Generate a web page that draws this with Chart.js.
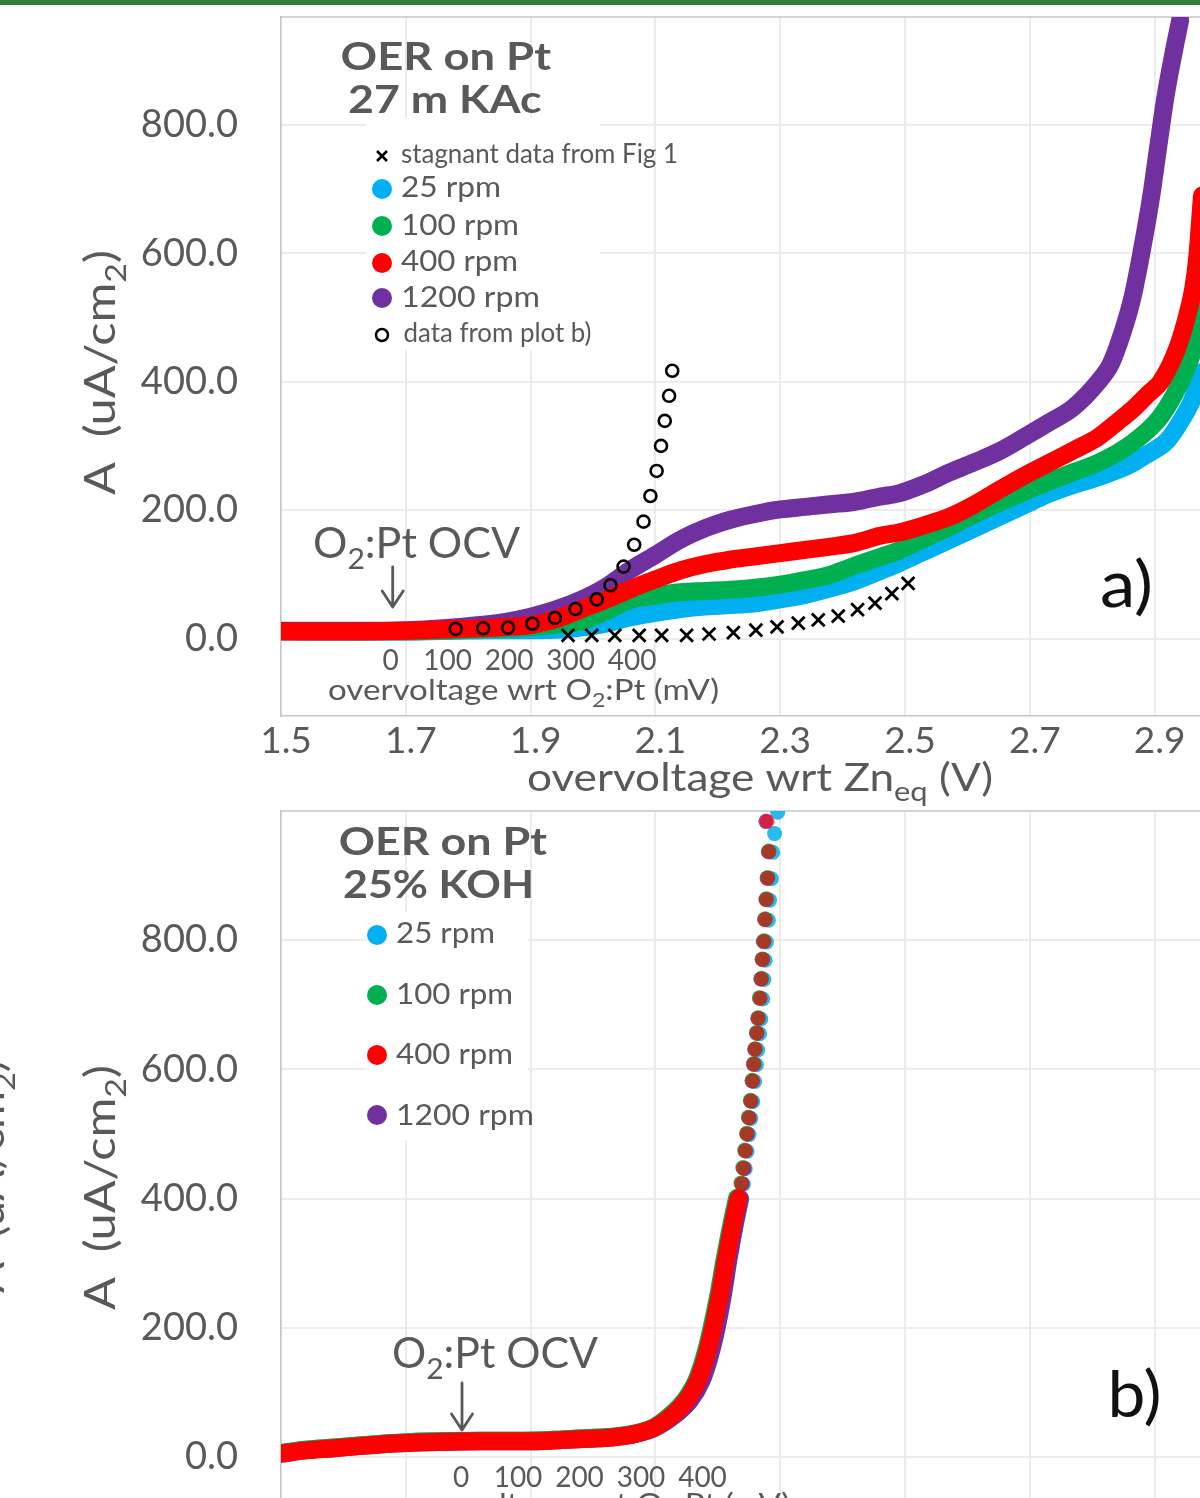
<!DOCTYPE html>
<html><head><meta charset="utf-8">
<script src="https://cdn.jsdelivr.net/npm/chart.js@4.4.1/dist/chart.umd.min.js"></script>
<style>
html,body{margin:0;padding:0;background:#fff;width:1200px;height:1498px;overflow:hidden;position:relative}
#bar{position:absolute;left:0;top:0;width:1200px;height:5px;background:#377d37}
#ca{position:absolute;left:0;top:0}
#cb{position:absolute;left:0;top:801px}
</style></head><body>
<canvas id="ca" width="1200" height="830"></canvas>
<canvas id="cb" width="1200" height="818"></canvas>
<div id="bar"></div>
<script>
// ---------- axis ticks ----------
const xTicks = [1.5, 1.7, 1.9, 2.1, 2.3, 2.5, 2.7, 2.9];
const yTicks = [0, 200, 400, 600, 800];
const mvTicks = ['0', '100', '200', '300', '400'];
const seriesLabels = ['25 rpm', '100 rpm', '400 rpm', '1200 rpm'];

// ---------- panel a) 27 m KAc : voltage (V) / current (uA/cm2) ----------
const vA25 = [1.488,1.55,1.62,1.70,1.78,1.84,1.90,1.95,1.98,2.02,2.06,2.10,2.14,2.18,2.22,2.26,2.30,2.34,2.38,2.41,2.46,2.49,2.53,2.57,2.61,2.65,2.69,2.73,2.77,2.81,2.84,2.865,2.89,2.92,2.946,2.962,2.976];
const iA25 = [12,11,11,11,12,13,13,14,17,23,33,40,46,50,52,55,61,68,78,86,105,117,135,153,171,189,207,225,239,251,262,273,288,308,345,375,415];
const vA100 = [1.488,1.55,1.62,1.70,1.78,1.84,1.90,1.95,1.98,2.02,2.06,2.10,2.14,2.18,2.22,2.26,2.30,2.34,2.38,2.41,2.46,2.49,2.53,2.57,2.61,2.65,2.69,2.73,2.77,2.81,2.84,2.865,2.89,2.91,2.94,2.962,2.976];
const iA100 = [11,11,11,11,13,15,18,22,26,42,60,67,72,74,76,79,84,91,99,110,127,137,155,173,193,211,228,244,259,274,289,305,325,346,396,450,510];
const vA400 = [1.488,1.55,1.62,1.70,1.76,1.82,1.86,1.90,1.94,1.98,2.02,2.06,2.10,2.14,2.18,2.22,2.26,2.30,2.34,2.38,2.42,2.46,2.49,2.53,2.57,2.61,2.65,2.69,2.73,2.77,2.81,2.84,2.865,2.89,2.91,2.936,2.952,2.962,2.968,2.976];
const iA400 = [11,11,11,12,14,16,18,21,30,45,60,77,92,106,116,123,128,133,138,143,149,160,165,176,189,208,231,253,273,293,314,337,357,381,400,451,502,545,590,690];
const vA1200 = [1.488,1.55,1.62,1.70,1.76,1.82,1.86,1.90,1.94,1.98,2.02,2.06,2.10,2.14,2.18,2.22,2.26,2.30,2.34,2.38,2.42,2.46,2.49,2.53,2.57,2.61,2.65,2.69,2.73,2.77,2.81,2.83,2.849,2.864,2.877,2.894,2.905,2.917,2.93,2.941];
const iA1200 = [12,12,12,13,16,21,26,34,45,60,80,107,130,154,172,185,194,201,205,209,213,221,226,240,258,274,291,313,336,360,400,428,478,529,591,685,760,841,910,963];
const vStag = [1.960,1.998,2.035,2.074,2.110,2.150,2.186,2.225,2.261,2.295,2.329,2.361,2.393,2.424,2.452,2.479,2.505];
const iStag = [5,5,5,5,5,5,7,9,13,18,24,29,35,45,55,70,86];
const vPlotB = [1.780,1.824,1.864,1.903,1.939,1.972,2.006,2.028,2.049,2.066,2.081,2.092,2.102,2.109,2.115,2.122,2.127];
const iPlotB = [15,16,17,23,32,46,61,83,112,146,182,222,261,300,339,378,417];

// ---------- panel b) 25% KOH ----------
const vB25 = [1.50,1.54,1.58,1.63,1.69,1.75,1.82,1.89,1.95,1.99,2.03,2.07,2.10,2.132,2.153,2.171,2.183,2.193,2.206,2.216,2.227,2.236,2.241,2.244,2.247,2.250,2.253,2.256,2.259,2.262,2.264,2.267,2.269,2.272,2.274,2.276,2.278,2.281,2.283,2.286,2.288,2.291,2.296];
const iB25 = [6,11,14,18,22,24,25,25,27,29,31,36,45,66,87,117,151,189,249,304,359,399,422,446,473,499,524,550,581,607,630,655,678,709,739,769,797,831,862,895,936,965,998];
const vB100 = [1.50,1.54,1.58,1.63,1.69,1.75,1.82,1.89,1.95,1.99,2.03,2.07,2.10,2.128,2.148,2.166,2.178,2.188,2.201,2.211,2.222,2.231,2.237,2.240,2.243,2.246,2.249,2.252,2.255,2.258,2.260,2.262,2.265,2.267,2.270,2.272,2.274,2.276,2.278,2.280,2.282];
const iB100 = [6,11,14,18,22,24,25,25,27,29,31,37,47,68,89,119,153,191,251,306,361,401,424,448,475,501,526,552,583,609,632,657,680,711,741,771,799,833,864,897,938];
const vB400 = [1.50,1.54,1.58,1.63,1.69,1.75,1.82,1.89,1.95,1.99,2.03,2.07,2.10,2.13,2.15,2.168,2.18,2.19,2.203,2.213,2.224,2.233,2.238,2.241,2.244,2.247,2.250,2.253,2.256,2.258,2.260,2.263,2.265,2.268,2.270,2.272,2.274,2.276,2.278,2.280,2.282,2.279];
const iB400 = [5,10,13,17,21,23,24,24,26,28,30,36,46,67,88,118,152,190,250,305,360,400,423,447,474,500,525,551,582,608,631,656,679,710,740,770,798,832,863,896,937,984];
const vB1200 = [1.50,1.54,1.58,1.63,1.69,1.75,1.82,1.89,1.95,1.99,2.03,2.07,2.10,2.134,2.156,2.174,2.186,2.196,2.208,2.217,2.227,2.235,2.239,2.242,2.244,2.247,2.250,2.253,2.255,2.257,2.259,2.262,2.264,2.267,2.269,2.271,2.273,2.275,2.277,2.279,2.281,2.277];
const iB1200 = [5,10,13,17,21,23,24,24,26,28,30,36,46,67,88,118,152,190,250,305,360,400,423,447,474,500,525,551,582,608,631,656,679,710,740,770,798,832,863,896,937,984];

// ---------- styles ----------
const FAM = 'Lato, "Liberation Sans", sans-serif';
const GRAY = '#595959';
const C25 = '#00b0f0', C100 = '#00b050', C400 = '#ff0000', C1200 = '#7030a0';
const colors = [C25, C100, C400, C1200];
const dotCols = ['rgba(0,176,240,0.85)', 'rgba(0,176,80,0.8)', 'rgba(255,0,0,0.62)', 'rgba(112,48,160,0.8)'];
const BAND = 18;

function pts(xs, ys) { return xs.map((x, i) => ({ x: x, y: ys[i] })); }
function fnt(sz, w) { return (w || 'normal') + ' ' + sz + 'px ' + FAM; }
function R() { return Array.from(arguments).map(p => typeof p === 'string' ? { t: p } : p); }
function sub(t) { return { t: t, sub: true }; }
function runsW(ctx, runs, sz, w) {
  let t = 0;
  for (const r of runs) { ctx.font = fnt(r.sub ? sz * 0.7 : sz, w); t += ctx.measureText(r.t).width; }
  return t;
}
function drawRuns(ctx, runs, x, by, o) {
  const sz = o.size, w = o.weight || 'normal';
  const nat = runsW(ctx, runs, sz, w);
  const sx = o.width ? o.width / nat : 1;
  ctx.save();
  ctx.translate(x, by);
  if (o.rot) ctx.rotate(-Math.PI / 2);
  ctx.scale(sx, 1);
  ctx.fillStyle = o.color || GRAY;
  ctx.textBaseline = 'alphabetic'; ctx.textAlign = 'left';
  let cx = 0;
  for (const r of runs) {
    const s = r.sub ? sz * 0.7 : sz;
    ctx.font = fnt(s, w);
    ctx.fillText(r.t, cx, r.sub ? sz * 0.26 : 0);
    cx += ctx.measureText(r.t).width;
  }
  ctx.restore();
}
function centered(ctx, s, cx, by, sz) {
  ctx.font = fnt(sz); ctx.fillStyle = GRAY; ctx.textAlign = 'center'; ctx.textBaseline = 'alphabetic';
  ctx.fillText(s, cx, by);
}
function arrow(ctx, x, y1, y2) {
  ctx.save(); ctx.strokeStyle = GRAY; ctx.lineWidth = 2.8; ctx.lineCap = 'round'; ctx.lineJoin = 'round';
  ctx.beginPath(); ctx.moveTo(x, y1); ctx.lineTo(x, y2);
  ctx.moveTo(x - 10.5, y2 - 16); ctx.lineTo(x, y2); ctx.lineTo(x + 10.5, y2 - 16);
  ctx.stroke(); ctx.restore();
}
function dot(ctx, x, y, r, c) { ctx.beginPath(); ctx.arc(x, y, r, 0, Math.PI * 2); ctx.fillStyle = c; ctx.fill(); }
function mvLabels(ctx, x0, by) {
  mvTicks.forEach((t, i) => centered(ctx, t, x0 + (i ? 57 + (i - 1) * 61.5 : 0), by, 28));
}
function topBorder(ctx, ca) {
  ctx.save(); ctx.strokeStyle = '#c6c6c6'; ctx.lineWidth = 1.5;
  ctx.beginPath(); ctx.moveTo(ca.left, ca.top); ctx.lineTo(ca.right, ca.top); ctx.stroke(); ctx.restore();
}
function noPad(s) { s.paddingTop = 0; s.paddingBottom = 0; s.paddingLeft = 0; s.paddingRight = 0; }

function mkOpts(ymin, ymax, padTop, xh) {
  const gridC = '#ececec';
  return {
    responsive: false, animation: false, devicePixelRatio: 1,
    layout: { autoPadding: false, padding: { top: padTop, left: 0, right: 0, bottom: 0 } },
    plugins: { legend: { display: false }, tooltip: { enabled: false } },
    scales: {
      x: {
        type: 'linear', min: 1.5, max: 2.9728,
        afterFit: s => { s.height = xh; noPad(s); },
        afterBuildTicks: s => { s.ticks = xTicks.map(v => ({ value: v })); },
        ticks: { font: { family: FAM, size: 37 }, color: GRAY, padding: 3, labelOffset: 5, maxRotation: 0, autoSkip: false, callback: v => Number(v).toFixed(1) },
        grid: { color: gridC, lineWidth: 2, drawTicks: false },
        border: { color: '#c6c6c6', width: 1.5 }
      },
      y: {
        type: 'linear', min: ymin, max: ymax,
        afterFit: s => { s.width = 281; noPad(s); },
        afterBuildTicks: s => { s.ticks = yTicks.map(v => ({ value: v })); },
        ticks: { font: { family: FAM, size: 38 }, color: GRAY, padding: 43, callback: v => Number(v).toFixed(1) },
        grid: { color: gridC, lineWidth: 2, drawTicks: false },
        border: { color: '#c6c6c6', width: 1.5 }
      }
    }
  };
}

function curveA(xs, ys, color, order) {
  return { type: 'line', data: pts(xs, ys), borderColor: color, backgroundColor: color, borderWidth: BAND,
    pointRadius: 0, borderCapStyle: 'round', borderJoinStyle: 'round', cubicInterpolationMode: 'monotone', fill: false, order: order };
}
function curveB(xs, ys, k, order) {
  const color = colors[k];
  return { type: 'line', data: pts(xs, ys), borderColor: color, backgroundColor: color, borderWidth: BAND,
    pointRadius: c => (c.raw && c.raw.y > 410 ? 7.5 : 0), pointBackgroundColor: dotCols[k], pointBorderWidth: 0,
    segment: { borderColor: c => (c.p1.parsed.y > 410 ? 'rgba(0,0,0,0)' : color) },
    borderCapStyle: 'round', borderJoinStyle: 'round', cubicInterpolationMode: 'monotone', fill: false, order: order };
}

// ---------- panel a ----------
const decoA = {
  id: 'decoA',
  beforeDatasetsDraw(chart) {
    const ctx = chart.ctx;
    ctx.save(); ctx.fillStyle = '#fff'; ctx.fillRect(366, 118, 234, 232); ctx.restore();
    topBorder(ctx, chart.chartArea);
  },
  afterDatasetsDraw(chart) {
    const ctx = chart.ctx;
    drawRuns(ctx, R('OER on Pt'), 340.5, 70, { size: 39, weight: 'bold', width: 210.5 });
    drawRuns(ctx, R('27 m KAc'), 348, 113, { size: 39, weight: 'bold', width: 193.5 });
    ctx.save(); ctx.strokeStyle = '#000'; ctx.lineWidth = 2.6;
    ctx.beginPath(); ctx.moveTo(377, 151); ctx.lineTo(387, 161); ctx.moveTo(387, 151); ctx.lineTo(377, 161); ctx.stroke(); ctx.restore();
    drawRuns(ctx, R('stagnant data from Fig 1'), 401, 163, { size: 27, width: 277 });
    const ly = [189, 226, 263, 298], lb = [197, 235, 271, 307], lw = [100, 118, 117, 139];
    seriesLabels.forEach((s, i) => {
      dot(ctx, 382, ly[i], 10, colors[i]);
      drawRuns(ctx, R(s), 401, lb[i], { size: 29, width: lw[i] });
    });
    ctx.save(); ctx.strokeStyle = '#000'; ctx.lineWidth = 2.5;
    ctx.beginPath(); ctx.arc(382, 335, 6, 0, Math.PI * 2); ctx.stroke(); ctx.restore();
    drawRuns(ctx, R('data from plot b)'), 403.5, 342, { size: 27, width: 188 });
    drawRuns(ctx, R('O', sub('2'), ':Pt OCV'), 313, 558, { size: 42, width: 207 });
    arrow(ctx, 392.7, 567, 607);
    mvLabels(ctx, 390.6, 670);
    drawRuns(ctx, R('overvoltage wrt O', sub('2'), ':Pt (mV)'), 328, 700, { size: 28, width: 391 });
    drawRuns(ctx, R('a)'), 1100, 607, { size: 64, width: 53, color: '#111' });
    drawRuns(ctx, R('overvoltage wrt Zn', sub('eq'), ' (V)'), 527, 791, { size: 38, width: 466 });
    drawRuns(ctx, R('A  (uA/cm', sub('2'), ')'), 115, 495, { size: 42, width: 245, rot: true });
  }
};

new Chart(document.getElementById('ca'), {
  type: 'line',
  data: { datasets: [
    curveA(vA25, iA25, C25, 6),
    curveA(vA100, iA100, C100, 5),
    curveA(vA1200, iA1200, C1200, 4),
    curveA(vA400, iA400, C400, 3),
    { type: 'line', data: pts(vStag, iStag), showLine: false, pointStyle: 'crossRot', pointRadius: 9,
      pointBorderWidth: 2.8, pointBorderColor: '#000', pointBackgroundColor: '#000', order: 2 },
    { type: 'line', data: pts(vPlotB, iPlotB), showLine: false, pointStyle: 'circle', pointRadius: 6,
      pointBorderWidth: 2.6, pointBorderColor: '#000', pointBackgroundColor: 'rgba(0,0,0,0)', order: 1 }
  ] },
  options: mkOpts(-120.7, 968, 17, 114),
  plugins: [decoA]
});

// ---------- panel b ----------
const OYB = 801;
const decoB = {
  id: 'decoB',
  beforeDatasetsDraw(chart) {
    const ctx = chart.ctx;
    ctx.save(); ctx.translate(0, -OYB);
    ctx.fillStyle = '#fff'; ctx.fillRect(367, 912, 161, 228);
    ctx.restore();
    topBorder(ctx, chart.chartArea);
  },
  afterDatasetsDraw(chart) {
    const ctx = chart.ctx;
    ctx.save(); ctx.translate(0, -OYB);
    drawRuns(ctx, R('OER on Pt'), 338.7, 855, { size: 39, weight: 'bold', width: 208.3 });
    drawRuns(ctx, R('25% KOH'), 343, 898, { size: 39, weight: 'bold', width: 191 });
    const ly = [935, 995, 1055, 1115], lb = [943, 1004, 1064, 1125], lw = [99, 117, 117, 138];
    seriesLabels.forEach((s, i) => {
      dot(ctx, 377, ly[i], 10, colors[i]);
      drawRuns(ctx, R(s), 396, lb[i], { size: 29, width: lw[i] });
    });
    drawRuns(ctx, R('O', sub('2'), ':Pt OCV'), 392, 1368, { size: 42, width: 206 });
    arrow(ctx, 462, 1383, 1430);
    mvLabels(ctx, 461, 1487);
    drawRuns(ctx, R('overvoltage wrt O', sub('2'), ':Pt (mV)'), 399, 1514, { size: 28, width: 391 });
    drawRuns(ctx, R('b)'), 1107.6, 1417, { size: 64, width: 54, color: '#111' });
    drawRuns(ctx, R('A  (uA/cm', sub('2'), ')'), 115, 1310, { size: 42, width: 245, rot: true });
    drawRuns(ctx, R('A  (uA/cm', sub('2'), ')'), 4, 1293, { size: 42, width: 233, rot: true });
    ctx.restore();
  }
};

new Chart(document.getElementById('cb'), {
  type: 'line',
  data: { datasets: [
    curveB(vB25, iB25, 0, 4),
    curveB(vB1200, iB1200, 3, 3),
    curveB(vB100, iB100, 1, 2),
    curveB(vB400, iB400, 2, 1)
  ] },
  options: mkOpts(-121, 1000, 10, 84),
  plugins: [decoB]
});
</script></body></html>
